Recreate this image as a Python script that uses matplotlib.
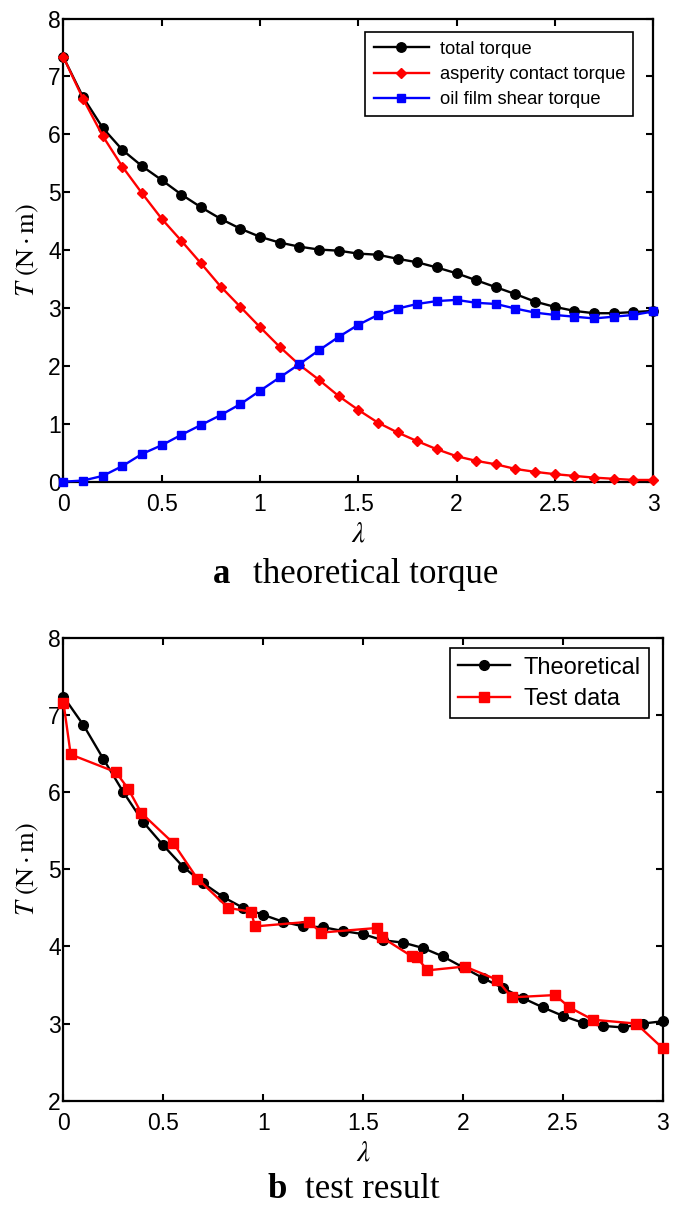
import numpy as np
import matplotlib
matplotlib.use("Agg")
import matplotlib.pyplot as plt

# data
lam = [round(0.1 * i, 1) for i in range(31)]
total_torque = [7.33, 6.64, 6.11, 5.73, 5.45, 5.21, 4.96, 4.74, 4.54, 4.37,
                4.23, 4.13, 4.06, 4.01, 3.99, 3.94, 3.92, 3.85, 3.79, 3.70,
                3.60, 3.48, 3.36, 3.24, 3.11, 3.02, 2.95, 2.91, 2.91, 2.93, 2.95]
asperity_torque = [7.33, 6.61, 5.97, 5.44, 4.98, 4.54, 4.16, 3.77, 3.37, 3.02,
                   2.67, 2.33, 2.02, 1.76, 1.48, 1.24, 1.02, 0.85, 0.70, 0.56,
                   0.44, 0.36, 0.30, 0.22, 0.17, 0.13, 0.10, 0.07, 0.05, 0.03, 0.03]
oil_torque = [0.00, 0.02, 0.10, 0.27, 0.48, 0.63, 0.81, 0.98, 1.15, 1.34,
              1.57, 1.80, 2.03, 2.27, 2.50, 2.71, 2.88, 2.99, 3.07, 3.12,
              3.14, 3.09, 3.07, 2.99, 2.92, 2.88, 2.85, 2.82, 2.85, 2.88, 2.94]

theo = [7.24, 6.87, 6.43, 6.00, 5.61, 5.31, 5.03, 4.82, 4.64, 4.50,
        4.41, 4.32, 4.26, 4.25, 4.20, 4.16, 4.08, 4.05, 3.98, 3.87,
        3.73, 3.59, 3.46, 3.33, 3.21, 3.10, 3.01, 2.97, 2.95, 3.00, 3.03]
test_x = [0.0, 0.036, 0.263, 0.325, 0.39, 0.55, 0.67, 0.825, 0.939, 0.959,
          1.228, 1.29, 1.57, 1.593, 1.745, 1.769, 1.822, 2.01, 2.169, 2.244,
          2.461, 2.533, 2.65, 2.867, 3.0]
test_y = [7.16, 6.49, 6.26, 6.04, 5.73, 5.34, 4.88, 4.50, 4.45, 4.26,
          4.32, 4.18, 4.24, 4.12, 3.87, 3.86, 3.69, 3.74, 3.57, 3.34,
          3.37, 3.21, 3.05, 3.00, 2.68]

plt.rcParams["font.family"] = ["Liberation Sans", "DejaVu Sans"]
plt.rcParams["mathtext.fontset"] = "stix"
serif = ["Liberation Serif", "DejaVu Serif"]

fig = plt.figure(figsize=(6.85, 12.13), dpi=100)
ax1 = fig.add_axes([0.0927, 0.6029, 0.8606, 0.3818])
ax2 = fig.add_axes([0.0927, 0.0926, 0.8748, 0.3814])


def style(ax):
    for s in ax.spines.values():
        s.set_linewidth(1.6)
        s.set_zorder(1)
    ax.tick_params(direction="in", top=True, right=True, length=5, width=1.5,
                   labelsize=16.5)
    ax.tick_params(axis="x", pad=8)
    ax.tick_params(axis="y", pad=2)
    ax.set_xlim(0, 3)
    ax.set_xticks([0, 0.5, 1, 1.5, 2, 2.5, 3])
    ax.set_xticklabels(["0", "0.5", "1", "1.5", "2", "2.5", "3"])
    ax.set_xlabel(r"$\lambda$", fontsize=21, labelpad=3)
    ax.set_ylabel(r"$T\ (\mathrm{N \cdot m})$", fontsize=19, labelpad=5)


# top: theoretical torque components
ax1.plot(lam, total_torque, "-o", color="black", lw=1.7, ms=6.8,
         label="total torque", clip_on=False, zorder=3)
ax1.plot(lam, asperity_torque, "-D", color="red", lw=1.7, ms=5.2,
         label="asperity contact torque", clip_on=False, zorder=3)
ax1.plot(lam, oil_torque, "-s", color="blue", lw=1.7, ms=6.3,
         label="oil film shear torque", clip_on=False, zorder=3)
style(ax1)
ax1.set_ylim(0, 8)
leg1 = ax1.legend(loc="upper right", bbox_to_anchor=(0.9666, 0.970),
                  borderaxespad=0, fontsize=13.2, fancybox=False, edgecolor="black",
                  framealpha=1, handlelength=3.0, labelspacing=0.45,
                  handletextpad=0.6, borderpad=0.45)
leg1.get_frame().set_linewidth(1.2)

# bottom: theory vs test
ax2.plot(lam, theo, "-o", color="black", lw=1.7, ms=7, label="Theoretical",
         clip_on=False, zorder=3)
ax2.plot(test_x, test_y, "-s", color="red", lw=1.7, ms=7, label="Test data",
         clip_on=False, zorder=3)
style(ax2)
ax2.set_ylim(2, 8)
leg2 = ax2.legend(loc="upper right", bbox_to_anchor=(0.9777, 0.9777),
                  borderaxespad=0, fontsize=17, fancybox=False, edgecolor="black",
                  framealpha=1, handlelength=2.2, labelspacing=0.4,
                  handletextpad=0.6, borderpad=0.35)
leg2.get_frame().set_linewidth(1.2)

# panel captions
fig.text(0.311, 0.5194, "a", family=serif, weight="bold", fontsize=25, va="baseline")
fig.text(0.369, 0.5194, "theoretical torque", family=serif, fontsize=25, va="baseline")
fig.text(0.390, 0.0124, "b", family=serif, weight="bold", fontsize=25, va="baseline")
fig.text(0.445, 0.0124, "test result", family=serif, fontsize=25, va="baseline")

fig.savefig("out.png", dpi=100)
